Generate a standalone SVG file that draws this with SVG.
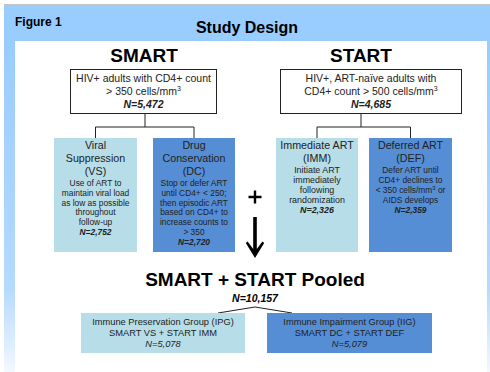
<svg xmlns="http://www.w3.org/2000/svg" width="490" height="372" viewBox="0 0 490 372">
<defs>
<linearGradient id="fade" x1="0" y1="0" x2="0" y2="1">
<stop offset="0" stop-color="#99ccff"/>
<stop offset="0.75" stop-color="#b5daff"/>
<stop offset="1" stop-color="#f2f8ff"/>
</linearGradient>
</defs>
<style>
text{font-family:"Liberation Sans",Arial,sans-serif;fill:#000;text-anchor:middle}
.h{font-weight:bold}
.big{font-size:10.7px;fill:#222}
.sm{font-size:8.4px;fill:#222}
.sm2{font-size:8.9px;fill:#222}
.mid{font-size:10.5px;fill:#222}
.n{font-weight:bold;font-style:italic}
.light{fill:#b7dde8}
.dark{fill:#558ed5}
.wbox{fill:#fff;stroke:#222;stroke-width:1}
.conn{fill:none;stroke:#222;stroke-width:1}
</style>
<rect x="0" y="0" width="490" height="372" fill="#fff"/>
<g id="frame">
<rect x="4" y="4" width="486" height="37" fill="#99ccff"/>
<rect x="4" y="41" width="11" height="331" fill="url(#fade)"/>
<rect x="487" y="41" width="3" height="331" fill="url(#fade)"/>
<line x1="4" y1="4.5" x2="490" y2="4.5" stroke="#c4c4c4" stroke-width="1"/>
<text x="15" y="26" class="h" style="font-size:12px;text-anchor:start">Figure 1</text>
<text x="247" y="33" class="h" style="font-size:16px">Study Design</text>
</g>
<g id="titles">
<text x="144" y="62" class="h" style="font-size:19px">SMART</text>
<text x="361" y="62" class="h" style="font-size:19px">START</text>
</g>
<g id="connectors">
<path class="conn" d="M145,113 V127 M95.5,138 V127 H194 V138"/>
<path class="conn" d="M361,113 V127 M317,138 V127 H410.5 V138"/>
<path class="conn" d="M218,313 L255,307 L292,313"/>
<path d="M255,190.5 v13 M248.5,197 h13" stroke="#000" stroke-width="2.4" fill="none"/>
<path d="M253.2,217 h3.6 v32 l5.6,-7.5 l1.8,1.6 l-9.2,14.9 l-9.2,-14.9 l1.8,-1.6 l5.6,7.5 z" fill="#000"/>
</g>
<g id="smart">
<rect class="wbox" x="70.5" y="69.5" width="146" height="44"/>
<text x="143.5" y="82" class="mid">HIV+ adults with CD4+ count</text>
<text x="143.5" y="95" class="mid">&gt; 350 cells/mm<tspan dy="-4" style="font-size:7px">3</tspan></text>
<text x="143.5" y="108" class="mid n">N=5,472</text>
</g>
<g id="start">
<rect class="wbox" x="280.5" y="69.5" width="181" height="44"/>
<text x="371" y="82" class="mid">HIV+, ART-naïve adults with</text>
<text x="371" y="95" class="mid">CD4+ count &gt; 500 cells/mm<tspan dy="-4" style="font-size:7px">3</tspan></text>
<text x="371" y="108" class="mid n">N=4,685</text>
</g>
<g id="vs">
<rect class="light" x="54" y="138" width="83" height="114"/>
<text x="95.5" y="149" class="big">Viral</text>
<text x="95.5" y="162" class="big">Suppression</text>
<text x="95.5" y="175" class="big">(VS)</text>
<text x="95.5" y="186" class="sm">Use of ART to</text>
<text x="95.5" y="195.8" class="sm">maintain viral load</text>
<text x="95.5" y="205.6" class="sm">as low as possible</text>
<text x="95.5" y="215.4" class="sm">throughout</text>
<text x="95.5" y="225.2" class="sm">follow-up</text>
<text x="95.5" y="235" class="sm n">N=2,752</text>
</g>
<g id="dc">
<rect class="dark" x="153" y="138" width="82" height="114"/>
<text x="194" y="149" class="big">Drug</text>
<text x="194" y="162" class="big">Conservation</text>
<text x="194" y="175" class="big">(DC)</text>
<text x="194" y="186" class="sm">Stop or defer ART</text>
<text x="194" y="195.8" class="sm">until CD4+ &lt; 250;</text>
<text x="194" y="205.6" class="sm">then episodic ART</text>
<text x="194" y="215.4" class="sm">based on CD4+ to</text>
<text x="194" y="225.2" class="sm">increase counts to</text>
<text x="194" y="235" class="sm">&gt; 350</text>
<text x="194" y="244.8" class="sm n">N=2,720</text>
</g>
<g id="imm">
<rect class="light" x="276" y="138" width="82" height="114"/>
<text x="317" y="149" class="big">Immediate ART</text>
<text x="317" y="162" class="big">(IMM)</text>
<text x="317" y="173" class="sm2">Initiate ART</text>
<text x="317" y="183" class="sm2">immediately</text>
<text x="317" y="193" class="sm2">following</text>
<text x="317" y="203" class="sm2">randomization</text>
<text x="317" y="213" class="sm2 n">N=2,326</text>
</g>
<g id="def">
<rect class="dark" x="369" y="138" width="83" height="114"/>
<text x="410.5" y="149" class="big">Deferred ART</text>
<text x="410.5" y="162" class="big">(DEF)</text>
<text x="410.5" y="173" class="sm">Defer ART until</text>
<text x="410.5" y="183" class="sm">CD4+ declines to</text>
<text x="410.5" y="193" class="sm">&lt; 350 cells/mm<tspan dy="-3" style="font-size:6px">3</tspan><tspan dy="3"> or</tspan></text>
<text x="410.5" y="203" class="sm">AIDS develops</text>
<text x="410.5" y="213" class="sm n">N=2,359</text>
</g>
<g id="pooled">
<text x="255" y="286" class="h" style="font-size:19px">SMART + START Pooled</text>
<text x="255" y="302" class="n" style="font-size:10.5px">N=10,157</text>
</g>
<g id="ipg">
<rect class="light" x="81" y="313" width="164" height="40"/>
<text x="163" y="325" style="font-size:9.3px;fill:#222">Immune Preservation Group (IPG)</text>
<text x="163" y="336" style="font-size:9.3px;fill:#222">SMART VS + START IMM</text>
<text x="163" y="347" style="font-size:9.3px;fill:#222;font-style:italic">N=5,078</text>
</g>
<g id="iig">
<rect class="dark" x="267" y="313" width="165" height="40"/>
<text x="349.5" y="325" style="font-size:9.3px;fill:#222">Immune Impairment Group (IIG)</text>
<text x="349.5" y="336" style="font-size:9.3px;fill:#222">SMART DC + START DEF</text>
<text x="349.5" y="347" style="font-size:9.3px;fill:#222;font-style:italic">N=5,079</text>
</g>
</svg>
